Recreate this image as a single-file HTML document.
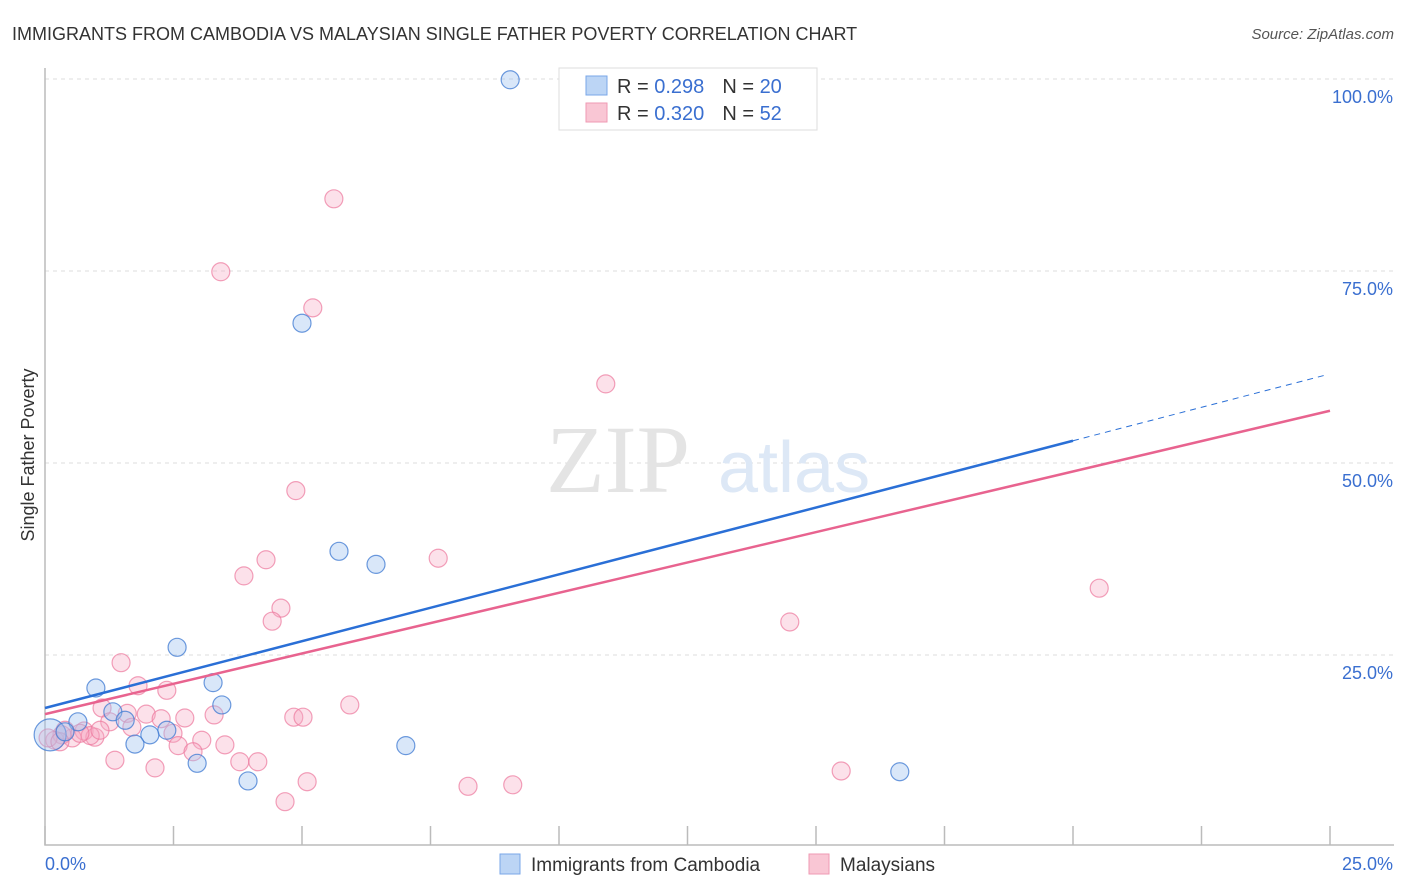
<!DOCTYPE html>
<html><head><meta charset="utf-8"><style>
body{margin:0;background:#fff;font-family:"Liberation Sans",sans-serif}
svg{display:block}
</style></head><body>
<svg width="1406" height="892">
<text x="12" y="40" font-size="18" fill="#333">IMMIGRANTS FROM CAMBODIA VS MALAYSIAN SINGLE FATHER POVERTY CORRELATION CHART</text>
<text x="1394" y="39" font-size="15" fill="#555" font-style="italic" text-anchor="end">Source: ZipAtlas.com</text>
<g id="grid"></g>
<text x="690" y="492" font-size="96" fill="#e4e4e4" text-anchor="end" font-family="Liberation Serif">ZIP</text>
<text x="718" y="492" font-size="72" fill="#dde8f6">atlas</text>
<text x="34" y="455" font-size="18" fill="#333" transform="rotate(-90 34 455)" text-anchor="middle">Single Father Poverty</text>
<g id="marks"></g>
<g>
<rect x="559" y="68" width="258" height="62" fill="#fff" stroke="#ddd"/>
<rect x="586" y="76" width="21" height="19" fill="#bcd5f5" stroke="#7aa7e8"/>
<rect x="586" y="103" width="21" height="19" fill="#f9c6d4" stroke="#ef9ab3"/>
<text x="617" y="93" font-size="20" fill="#333">R = <tspan fill="#3a6fd0">0.298</tspan><tspan dx="18">N = </tspan><tspan fill="#3a6fd0">20</tspan></text>
<text x="617" y="120" font-size="20" fill="#333">R = <tspan fill="#3a6fd0">0.320</tspan><tspan dx="18">N = </tspan><tspan fill="#3a6fd0">52</tspan></text>
</g>
<g>
<rect x="500" y="854" width="20" height="20" fill="#bcd5f5" stroke="#7aa7e8"/>
<text x="531" y="871" font-size="19" fill="#333">Immigrants from Cambodia</text>
<rect x="809" y="854" width="20" height="20" fill="#f9c6d4" stroke="#ef9ab3"/>
<text x="840" y="871" font-size="19" fill="#333">Malaysians</text>
</g>
</svg>
<script>
const blueX=[9.05,5.00,5.72,6.44,2.57,0.99,3.27,3.44,1.32,1.56,0.64,2.37,2.04,1.75,7.02,2.96,3.95,16.63,0.10,0.39];
const blueY=[99.9,68.2,38.5,36.8,26.0,20.7,21.4,18.5,17.6,16.5,16.3,15.2,14.6,13.4,13.2,10.9,8.6,9.8,14.6,15.0];
const pinkX=[10.35,5.62,3.42,5.21,10.91,4.88,7.65,4.30,3.87,4.59,4.42,20.51,14.49,1.48,1.81,2.37,5.93,1.11,1.60,1.97,2.26,2.72,3.29,4.84,5.02,1.26,1.69,2.49,3.05,3.50,2.59,2.88,0.76,0.97,0.53,0.33,0.19,0.88,1.36,2.14,3.79,4.14,5.10,4.67,8.23,9.10,15.49,0.39,0.06,0.68,0.29,1.07];
const pinkY=[99.9,84.4,74.9,70.2,60.3,46.4,37.6,37.4,35.3,31.1,29.4,33.7,29.3,24.0,21.0,20.4,18.5,18.1,17.4,17.3,16.7,16.8,17.2,16.9,16.9,16.3,15.6,14.8,13.9,13.3,13.2,12.4,15.1,14.3,14.2,14.6,13.9,14.5,11.3,10.3,11.1,11.1,8.5,5.9,7.9,8.1,9.9,15.2,14.2,14.8,13.7,15.2];
const blueTrend=[18.1,1.74];
const pinkTrend=[17.3,1.58];
const yTicks=[25,50,75,100];
const yTickLabels=["25.0%","50.0%","75.0%","100.0%"];
const xTicks=[0,2.5,5,7.5,10,12.5,15,17.5,20,22.5,25];
const NS='http://www.w3.org/2000/svg';
const sx=v=>45+v*1285/25, sy=v=>847-v*7.68;
function mk(t,a,p){const e=document.createElementNS(NS,t);for(const k in a)e.setAttribute(k,a[k]);p.appendChild(e);return e;}
const g=document.getElementById('grid'),m=document.getElementById('marks');
yTicks.forEach((t,i)=>{
 const l=mk('line',{x1:45,x2:1394,y1:sy(t),y2:sy(t),stroke:'#ddd','stroke-dasharray':'4,4'},g);
 
 
 const tx=mk('text',{x:1393,y:sy(t)+24,'font-size':18,fill:'#3a6fd0','text-anchor':'end'},g);
 tx.textContent=yTickLabels[i];
 
 
});
const ax=mk('path',{d:'M45 68V845H1394',fill:'none',stroke:'#bbb','stroke-width':1.5},g);


xTicks.forEach(t=>{const l=mk('line',{x1:sx(t),x2:sx(t),y1:826,y2:845,stroke:'#bbb','stroke-width':1.5},g);
 
 });
[['0.0%',45,'start'],['25.0%',1393,'end']].forEach(a=>{const tx=mk('text',{x:a[1],y:870,'font-size':18,fill:'#3a6fd0','text-anchor':a[2]},g);tx.textContent=a[0];
 
 });
function dots(X,Y,fill,stroke,name){X.forEach((x,i)=>{const r=(i===18&&name==='cambodia-point')?16:9;
 const c=mk('circle',{cx:sx(x),cy:sy(Y[i]),r:r,fill:fill,stroke:stroke,'stroke-width':1.2},m);
 
 });}
dots(pinkX,pinkY,'rgba(246,170,194,0.35)','rgba(236,120,156,0.7)','malaysian-point');
dots(blueX,blueY,'rgba(160,195,240,0.4)','rgba(60,120,210,0.75)','cambodia-point');
function trend(tr,x0,x1,col,dash,name){const l=mk('line',{x1:sx(x0),y1:sy(tr[0]+tr[1]*x0),x2:sx(x1),y2:sy(tr[0]+tr[1]*x1),stroke:col,'stroke-width':dash?1:2.5},m);
 if(dash)l.setAttribute('stroke-dasharray','6,5');
 
 }
trend(pinkTrend,0,25,'#e8638f',false,'malaysian-trendline');
trend(blueTrend,0,20,'#2a6fd6',false,'cambodia-trendline');
trend(blueTrend,20,24.94,'#2a6fd6',true,'cambodia-trendline-extension');
</script>
</body></html>
